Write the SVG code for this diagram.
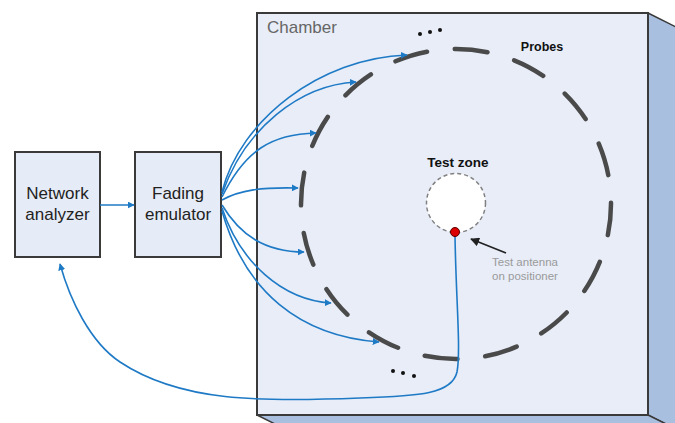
<svg xmlns="http://www.w3.org/2000/svg" width="675" height="423" viewBox="0 0 675 423">
  <defs>
    <style>
      .box { fill: #e6ecf7; stroke: #3a3a3a; stroke-width: 2; }
      .lbl { font-family: "Liberation Sans", Arial, sans-serif; font-size: 17px; fill: #222; text-anchor: middle; }
      .conn { fill: none; stroke: #1f7ac6; stroke-width: 1.6; }
      .probe { fill: none; stroke: #4a4a4a; stroke-width: 4.5; stroke-linecap: round; }
      .small { font-family: "Liberation Sans", Arial, sans-serif; font-weight: bold; fill: #111; text-anchor: middle; }
      .dot { fill: #111; }
    </style>
    <marker id="blueArrow" viewBox="0 0 10 10" refX="9" refY="5" markerWidth="7" markerHeight="7" markerUnits="userSpaceOnUse" orient="auto">
      <path d="M0,0 L10,5 L0,10 z" fill="#1f7ac6"/>
    </marker>
    <marker id="blackArrow" viewBox="0 0 10 10" refX="9" refY="5" markerWidth="9" markerHeight="9" markerUnits="userSpaceOnUse" orient="auto">
      <path d="M0,0 L10,5 L0,10 z" fill="#222"/>
    </marker>
  </defs>

  <rect width="675" height="423" fill="#ffffff"/>

  <g id="chamber">
    <polygon points="648,13 708,43 708,445 648,415" fill="#a9bfe0" stroke="#3a3a3a" stroke-width="1.5"/>
    <polygon points="257,415 648,415 708,445 317,445" fill="#a9bfe0" stroke="#3a3a3a" stroke-width="1.5"/>
    <rect x="257" y="13" width="391" height="402" fill="#e8edf8" stroke="#3a3a3a" stroke-width="2"/>
    <text x="267" y="33" font-family="Liberation Sans, Arial, sans-serif" font-size="17" fill="#666">Chamber</text>
  </g>

  <g id="probes">
    <circle class="probe" cx="456" cy="204" r="155" stroke-dasharray="33 27.87" stroke-dashoffset="1.6"/>
    <text class="small" x="542" y="51" font-size="12.5">Probes</text>
    <circle class="dot" cx="420" cy="34" r="2"/>
    <circle class="dot" cx="430" cy="32" r="2"/>
    <circle class="dot" cx="440" cy="30" r="2"/>
    <circle class="dot" cx="393" cy="371" r="2"/>
    <circle class="dot" cx="403" cy="373" r="2"/>
    <circle class="dot" cx="414" cy="376" r="2"/>
  </g>

  <g id="test-zone">
    <text class="small" x="458" y="167" font-size="13.5">Test zone</text>
    <circle cx="456" cy="203" r="29.5" fill="#ffffff" stroke="#808080" stroke-width="1.5" stroke-dasharray="4 3"/>
  </g>

  <g id="network-analyzer">
    <rect class="box" x="15" y="152" width="85" height="105"/>
    <text class="lbl" x="57.5" y="199">Network</text>
    <text class="lbl" x="57.5" y="220">analyzer</text>
  </g>

  <g id="fading-emulator">
    <rect class="box" x="135" y="152" width="86" height="105"/>
    <text class="lbl" x="178" y="199">Fading</text>
    <text class="lbl" x="178" y="220">emulator</text>
  </g>

  <g id="connectors">
    <path class="conn" d="M100,205 L134,205" marker-end="url(#blueArrow)"/>
    <path class="conn" d="M222,192 C240,120 320,58 407,55" marker-end="url(#blueArrow)"/>
    <path class="conn" d="M222,194 C245,128 300,85 356,82" marker-end="url(#blueArrow)"/>
    <path class="conn" d="M222,197 C245,150 272,134 316,133" marker-end="url(#blueArrow)"/>
    <path class="conn" d="M222,200 C240,190 262,187 298,188" marker-end="url(#blueArrow)"/>
    <path class="conn" d="M222,205 C240,235 265,252 304,252" marker-end="url(#blueArrow)"/>
    <path class="conn" d="M222,208 C240,262 282,300 331,303" marker-end="url(#blueArrow)"/>
    <path class="conn" d="M222,211 C245,292 300,336 379,342" marker-end="url(#blueArrow)"/>
    <path class="conn" d="M455,236 C456,300 461,350 457,372 C452,394 420,396 360,398 C260,402 180,402 120,362 C90,342 70,300 60,264" marker-end="url(#blueArrow)"/>
    <path d="M506,253 L471,239" stroke="#222" stroke-width="1.6" fill="none" marker-end="url(#blackArrow)"/>
  </g>

  <g id="test-antenna">
    <circle cx="455" cy="232" r="4.5" fill="#dd0000" stroke="#5a0000" stroke-width="1"/>
    <text x="525" y="266" font-family="Liberation Sans, Arial, sans-serif" font-size="11.5" fill="#9a9a9a" text-anchor="middle">Test antenna</text>
    <text x="525" y="280" font-family="Liberation Sans, Arial, sans-serif" font-size="11.5" fill="#9a9a9a" text-anchor="middle">on positioner</text>
  </g>
</svg>
